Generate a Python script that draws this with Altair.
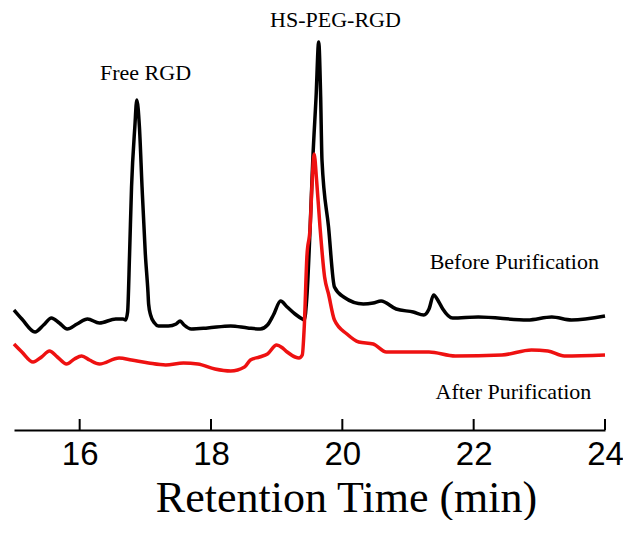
import altair as alt
import pandas as pd

# Retention time (min) and detector signal (arbitrary units)
time_before = [15.00, 15.12, 15.32, 15.45, 15.57, 15.69, 15.81, 15.96, 16.12, 16.30,
               16.55, 16.66, 16.70, 16.73, 16.76, 16.79, 16.84, 16.87, 16.91, 16.95,
               17.00, 17.04, 17.05, 17.08, 17.14, 17.20, 17.35, 17.47, 17.53, 17.59,
               17.70, 17.95, 18.30, 18.56, 18.75, 18.86, 18.95, 19.06, 19.16, 19.28,
               19.39, 19.42, 19.46, 19.51, 19.55, 19.60, 19.64, 19.67, 19.69, 19.79,
               19.88, 20.02, 20.32, 20.47, 20.59, 20.82, 21.08, 21.24, 21.32, 21.39,
               21.47, 21.53, 21.68, 22.07, 22.82, 23.19, 23.49, 24.00]
signal_before = [120, 111, 98, 105, 112, 107, 101, 106, 111, 107,
                 111, 111, 110, 118, 176, 243, 303, 330, 303, 243,
                 176, 138, 126, 115, 107, 104, 104, 106, 109, 105,
                 101, 102, 104, 102, 101, 105, 115, 129, 123, 116,
                 111, 110, 133, 203, 270, 333, 388, 333, 270, 203,
                 143, 133, 126, 127, 129, 121, 118, 115, 121, 135,
                 128, 121, 112, 113, 110, 113, 110, 114]

time_after = [15.00, 15.12, 15.29, 15.42, 15.54, 15.66, 15.80, 15.92, 16.03, 16.15,
              16.30, 16.60, 16.79, 17.05, 17.31, 17.58, 17.80, 18.06, 18.30, 18.51,
              18.60, 18.74, 18.86, 19.00, 19.09, 19.16, 19.28, 19.34, 19.39, 19.42,
              19.46, 19.51, 19.54, 19.57, 19.61, 19.66, 19.73, 19.79, 19.88, 20.07,
              20.25, 20.47, 20.67, 21.32, 21.72, 22.43, 22.88, 23.13, 23.38, 24.00]
signal_after = [86, 78, 68, 73, 79, 73, 66, 71, 74, 70,
                66, 72, 70, 67, 65, 67, 66, 61, 59, 63,
                70, 73, 76, 85, 82, 78, 73, 72, 75, 103,
                173, 203, 248, 276, 248, 203, 153, 136, 110, 96,
                88, 86, 78, 78, 74, 75, 80, 79, 74, 75]

x_ticks = [16, 18, 20, 22, 24]

label_text = ["Free RGD", "HS-PEG-RGD", "Before Purification", "After Purification"]
label_time = [16.31, 18.90, 21.33, 21.42]
label_signal = [350, 403, 161, 31]

before = pd.DataFrame({"time": time_before, "signal": signal_before})
after = pd.DataFrame({"time": time_after, "signal": signal_after})
labels = pd.DataFrame({"text": label_text, "time": label_time, "signal": label_signal})
ticks = pd.DataFrame({"time": x_ticks})

PLOT_W, PLOT_H = 591, 422

x_scale = alt.Scale(domain=[15, 24], nice=False, zero=False)
y_scale = alt.Scale(domain=[0, PLOT_H], nice=False, zero=False)

x_axis = alt.Axis(
    values=x_ticks, format="d", ticks=False, grid=False, domainColor="black", domainWidth=2,
    labelFont="Liberation Sans", labelFontSize=33, labelColor="black",
    labelPadding=8, labelFlush=False,
    title="Retention Time (min)", titleFont="Liberation Serif", titleFontSize=44,
    titleFontWeight="normal", titleColor="black", titleX=332, titleY=81,
    titleBaseline="alphabetic", titleAlign="center",
)

black_line = alt.Chart(before).mark_line(
    color="black", strokeWidth=3.5, interpolate="monotone"
).encode(
    x=alt.X("time:Q", scale=x_scale, axis=x_axis),
    y=alt.Y("signal:Q", scale=y_scale, axis=None),
)

red_line = alt.Chart(after).mark_line(
    color="#ee1111", strokeWidth=3.5, interpolate="monotone"
).encode(
    x=alt.X("time:Q", scale=x_scale),
    y=alt.Y("signal:Q", scale=y_scale),
)

tick_marks = alt.Chart(ticks).mark_rule(color="black", strokeWidth=2).encode(
    x=alt.X("time:Q", scale=x_scale),
    y=alt.value(PLOT_H - 11),
    y2=alt.value(PLOT_H),
)

text = alt.Chart(labels).mark_text(
    font="Liberation Serif", fontSize=22, align="left", baseline="alphabetic", color="black"
).encode(
    x=alt.X("time:Q", scale=x_scale),
    y=alt.Y("signal:Q", scale=y_scale),
    text="text:N",
)

chart = alt.layer(black_line, red_line, tick_marks, text).properties(
    width=PLOT_W, height=PLOT_H,
    autosize="none",
    padding={"left": 6, "top": 0, "right": 18, "bottom": 90},
    background="white",
).configure_view(stroke=None)

chart.save("out.html", embed_options={"renderer": "svg", "actions": False})
